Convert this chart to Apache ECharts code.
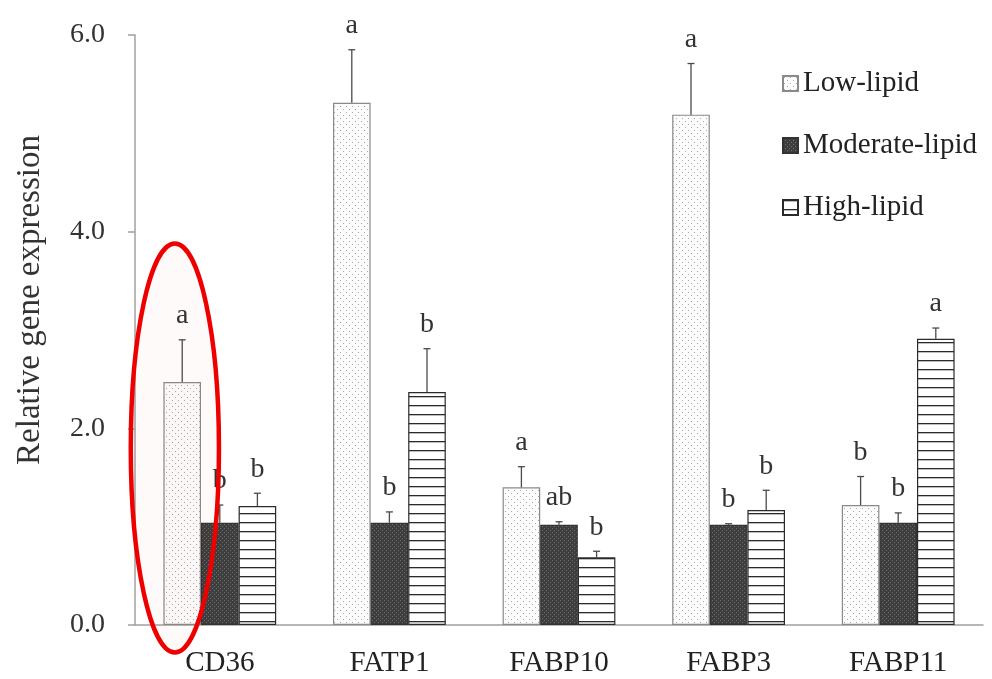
<!DOCTYPE html>
<html><head><meta charset="utf-8">
<script src="https://cdn.jsdelivr.net/npm/echarts@6/dist/echarts.min.js"></script>
<style>html,body{margin:0;padding:0;background:#fff}#c{width:992px;height:679px}</style>
</head><body><div id="c"></div>
<script>
// ---- data ----
const categories = ['CD36', 'FATP1', 'FABP10', 'FABP3', 'FABP11'];
const seriesNames = ['Low-lipid', 'Moderate-lipid', 'High-lipid'];
const lowMean  = [2.47, 5.31, 1.40, 5.19, 1.22];
const lowErr   = [0.43, 0.54, 0.21, 0.52, 0.29];
const modMean  = [1.04, 1.04, 1.02, 1.02, 1.04];
const modErr   = [0.18, 0.11, 0.03, 0.01, 0.10];
const highMean = [1.21, 2.37, 0.69, 1.17, 2.91];
const highErr  = [0.13, 0.44, 0.06, 0.20, 0.11];
const lowLetters  = ['a', 'a', 'a', 'a', 'b'];
const modLetters  = ['b', 'b', 'ab', 'b', 'b'];
const highLetters = ['b', 'b', 'b', 'b', 'a'];
const yTickValues = [0, 2, 4, 6];
const yAxisTitle = 'Relative gene expression';
const highlightCategory = 'CD36';
const highlightRange = [-0.28, 3.88];

// ---- patterns ----
function pat(w, h, draw) {
  const c = document.createElement('canvas'); c.width = w; c.height = h;
  draw(c.getContext('2d')); return c;
}
const lowPat = pat(6, 6, g => {
  g.fillStyle = '#fcfcfc'; g.fillRect(0, 0, 6, 6);
  g.fillStyle = '#a8a8a8'; g.fillRect(1, 1, 1, 1); g.fillRect(4, 4, 1, 1);
});
const modPat = pat(4, 4, g => {
  g.fillStyle = '#3e3e3e'; g.fillRect(0, 0, 4, 4);
  g.fillStyle = '#6e6e6e'; g.fillRect(0, 0, 1, 1); g.fillRect(2, 2, 1, 1);
});
const highPat = pat(8, 9, g => {
  g.fillStyle = '#ffffff'; g.fillRect(0, 0, 8, 9);
  g.fillStyle = '#2a2a2a'; g.fillRect(0, 0, 8, 1.3);
});

const SERIF = '"Liberation Serif", "Times New Roman", serif';
const CAT_GAP = 0.335;
const BARW = (1 - CAT_GAP) / 3;

const groups = [
  { name: seriesNames[0], mean: lowMean, err: lowErr, letters: lowLetters, pattern: lowPat, border: '#8a8a8a' },
  { name: seriesNames[1], mean: modMean, err: modErr, letters: modLetters, pattern: modPat, border: '#333333' },
  { name: seriesNames[2], mean: highMean, err: highErr, letters: highLetters, pattern: highPat, border: '#2a2a2a' }
];

const series = [];
groups.forEach((gr) => {
  series.push({
    name: gr.name, type: 'bar', data: gr.mean,
    barGap: '0%', barCategoryGap: (CAT_GAP * 100) + '%',
    itemStyle: { color: { image: gr.pattern, repeat: 'repeat' }, borderColor: gr.border, borderWidth: 1.2 },
    emphasis: { disabled: true }, z: 2
  });
});
groups.forEach((gr, gi) => {
  series.push({
    type: 'custom', z: 5,
    data: gr.mean.map((m, i) => [i, m, gr.err[i]]),
    encode: { x: 0, y: 1 },
    renderItem: function (params, api) {
      const band = api.size([1, 0])[0];
      const off = (gi - 1) * band * BARW;
      const base = api.coord([api.value(0), api.value(1)]);
      const top = api.coord([api.value(0), api.value(1) + api.value(2)]);
      const x = base[0] + off;
      const st = { stroke: '#4a4a4a', lineWidth: 1.3 };
      return { type: 'group', children: [
        { type: 'line', shape: { x1: x, y1: base[1], x2: x, y2: top[1] }, style: st },
        { type: 'line', shape: { x1: x - 3.5, y1: top[1], x2: x + 3.5, y2: top[1] }, style: st },
        { type: 'text', style: { text: gr.letters[params.dataIndex], x: x, y: top[1] - 10,
            align: 'center', verticalAlign: 'bottom', font: '28px ' + SERIF, fill: '#333' } }
      ] };
    }
  });
});
// highlight ellipse around the first bar of the highlighted category
series.push({
  type: 'custom', z: 10, clip: false, silent: true,
  data: [[categories.indexOf(highlightCategory), (highlightRange[0] + highlightRange[1]) / 2]],
  encode: { x: 0, y: 1 },
  renderItem: function (params, api) {
    const band = api.size([1, 0])[0];
    const c = api.coord([api.value(0), api.value(1)]);
    const t = api.coord([api.value(0), highlightRange[1]]);
    const b = api.coord([api.value(0), highlightRange[0]]);
    return {
      type: 'ellipse',
      shape: { cx: c[0] - 0.265 * band, cy: (t[1] + b[1]) / 2, rx: 0.26 * band, ry: (b[1] - t[1]) / 2 },
      style: { fill: 'rgba(200,0,0,0.018)', stroke: '#ee0000', lineWidth: 4.5 }
    };
  }
});

const chart = echarts.init(document.getElementById('c'), null, { renderer: 'canvas' });
chart.setOption({
  animation: false,
  backgroundColor: '#ffffff',
  grid: { left: 135, right: 9, top: 35, bottom: 54 },
  legend: {
    data: seriesNames, orient: 'vertical', left: 777, top: 64,
    icon: 'rect', itemWidth: 15, itemHeight: 15, itemGap: 33, itemTextGap: 5,
    textStyle: { fontFamily: SERIF, fontSize: 29, color: '#222' }
  },
  xAxis: {
    type: 'category', data: categories,
    axisLine: { lineStyle: { color: '#a0a0a0', width: 1.5 } },
    axisTick: { length: 8, lineStyle: { color: '#a0a0a0', width: 1.5 } },
    axisLabel: { fontFamily: SERIF, fontSize: 29, color: '#222', margin: 24 }
  },
  yAxis: {
    type: 'value', min: yTickValues[0], max: yTickValues[yTickValues.length - 1], interval: 2,
    axisLine: { show: true, lineStyle: { color: '#a0a0a0', width: 1.5 } },
    axisTick: { show: true, length: 7, lineStyle: { color: '#a0a0a0', width: 1.5 } },
    splitLine: { show: false },
    axisLabel: { fontFamily: SERIF, fontSize: 28, color: '#333', margin: 30, padding: [6, 0, 0, 0], formatter: v => v.toFixed(1) }
  },
  graphic: [{
    type: 'text', x: 30, y: 300, rotation: Math.PI / 2,
    style: { text: yAxisTitle, font: '33px ' + SERIF, fill: '#333', align: 'center', verticalAlign: 'middle' }
  }],
  series: series
});
</script></body></html>
